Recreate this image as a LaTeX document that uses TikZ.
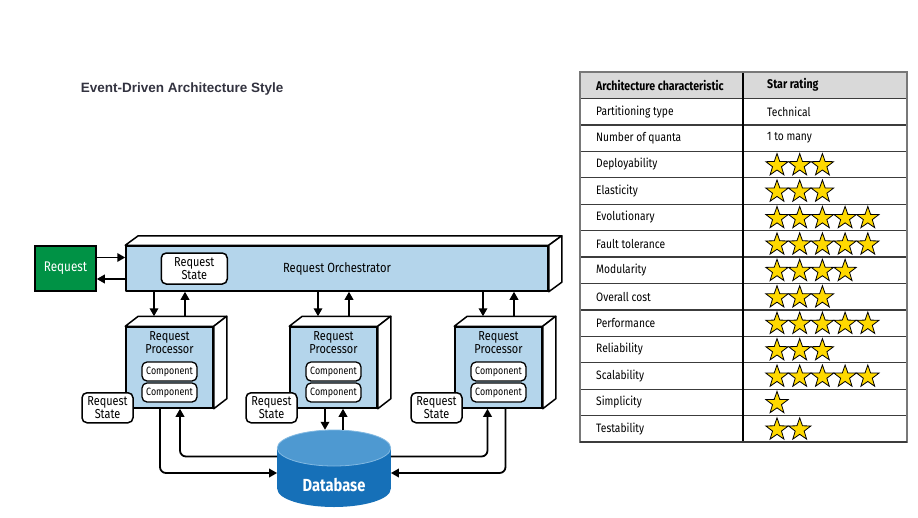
\documentclass[tikz,border=0pt]{standalone}
\usepackage{fontspec}
\setmainfont{Fira Sans}[FakeStretch=0.84]
\newfontfamily\titlefont{Liberation Sans}
\usetikzlibrary{arrows.meta,shapes.geometric}
\definecolor{boxblue}{RGB}{180,213,235}
\definecolor{reqgreen}{RGB}{0,146,69}
\definecolor{dbbody}{RGB}{22,112,184}
\definecolor{dbtop}{RGB}{78,153,209}
\definecolor{dbseam}{RGB}{130,185,226}
\definecolor{staryellow}{RGB}{255,217,0}
\definecolor{hdrgrey}{RGB}{217,217,217}
\definecolor{titlegrey}{RGB}{51,51,64}
\definecolor{gridline}{RGB}{60,60,60}
\definecolor{bordergrey}{RGB}{120,120,120}
\newcommand\cuboidfaces[3]{%
  \draw[face] (#1.north west) -- ++(#2,-#3) -- ([shift={(#2,-#3)}]#1.north east) -- (#1.north east) -- cycle;
  \draw[face] (#1.north east) -- ++(#2,-#3) -- ([shift={(#2,-#3)}]#1.south east) -- (#1.south east) -- cycle;}
\begin{document}
\begin{tikzpicture}[x=1pt,y=-1pt,
  outline/.style={draw=black,line width=1.5pt},
  face/.style={outline,fill=white,line join=round},
  front/.style={outline,fill=boxblue,inner sep=0pt,line join=round},
  statebox/.style={outline,fill=white,rounded corners=5pt,align=center,
    font=\fontsize{13}{13}\selectfont,inner sep=0pt,minimum width=51pt,minimum height=30pt},
  compbox/.style={outline,line width=1.3pt,fill=white,rounded corners=5pt,
    font=\fontsize{10.6}{11}\selectfont,minimum width=55pt,minimum height=19pt,inner sep=0pt},
  proctext/.style={align=center,font=\fontsize{13}{13.2}\selectfont,inner sep=0pt},
  conn/.style={line width=1.8pt,-{Triangle[length=8pt,width=8.5pt]}},
  rconn/.style={conn,rounded corners=6pt},
  rowtext/.style={anchor=west,inner sep=0pt,font=\fontsize{12.2}{13}\selectfont},
  hdrtext/.style={anchor=west,inner sep=0pt,font=\bfseries\fontsize{12.6}{13}\selectfont},
  ystar/.style={star,star points=5,star point ratio=2.5,minimum size=23.5pt,inner sep=0pt,
    draw=black,line width=0.8pt,fill=staryellow},
]
\useasboundingbox (0,0) rectangle (918,517);
\fill[white] (0,0) rectangle (918,517);

% title
\node[anchor=west,inner sep=0pt,text=titlegrey,font=\titlefont\bfseries\fontsize{13.5}{16}\selectfont]
  (title) at (80.7,89) {Event-Driven Architecture Style};

% database
\fill[dbbody] (334,489) ellipse [x radius=56.7pt, y radius=18pt];
\fill[dbbody] (277.3,448) rectangle (391,489);
\fill[dbtop] (334,448) ellipse [x radius=56.7pt, y radius=18pt];
\draw[dbseam,line width=0.8pt] (334,448) ellipse [x radius=56.7pt, y radius=18pt];
\node[minimum width=113.4pt,minimum height=77pt,inner sep=0pt] (db) at (334,468.5) {};
\node[text=white,inner sep=0pt,font=\bfseries\fontsize{17.5}{19}\selectfont] (dbl) at (334,485) {Database};

% request
\node[outline,fill=reqgreen,text=white,minimum width=61pt,minimum height=45pt,inner sep=0pt,
  font=\fontsize{14}{15}\selectfont] (req) at (65.5,268.5) {Request};

% orchestrator
\node[front,minimum width=422pt,minimum height=45pt,font=\fontsize{13.3}{14}\selectfont]
  (orch) at (337,268.5) {Request Orchestrator};
\cuboidfaces{orch}{13}{9.5}
\node[statebox,minimum width=66pt,minimum height=31pt] (ostate) at ([xshift=69pt]orch.west) {Request\\State};

\draw[conn] ([yshift=11pt]req.east) -- ([yshift=11pt]req.east -| orch.west);
\draw[conn] ([yshift=-10.5pt]req.east -| orch.west) -- ([yshift=-10.5pt]req.east);

% processors
\foreach \p/\x in {p1/169.5,p2/333.5,p3/498.5}{
  \node[front,minimum width=87pt,minimum height=81pt] (\p) at (\x,367.5) {};
  \cuboidfaces{\p}{13}{10}
  \node[proctext] (\p t) at ([yshift=-16.5pt]\p.north) {Request\\Processor};
  \node[compbox] (\p c1) at ([yshift=-4pt]\p.center) {Component};
  \node[compbox] (\p c2) at ([yshift=-25pt]\p.center) {Component};
  \draw[conn] ([xshift=-15.5pt]\p.north |- orch.south) -- ([xshift=-15.5pt,yshift=10pt]\p.north);
  \draw[conn] ([xshift=15.5pt,yshift=10pt]\p.north) -- ([xshift=15.5pt]\p.north |- orch.south);
  \node[statebox] (\p s) at ([xshift=-62pt,yshift=1pt]\p.south) {Request\\State};
}

% processor <-> database
\draw[conn] ([xshift=-8.5pt]p2.south) -- ([xshift=-8.5pt]p2.south |- db.north);
\draw[conn] ([xshift=9.5pt]p2.south |- db.north) -- ([xshift=9.5pt]p2.south);
\draw[rconn] ([xshift=-9.5pt]p1.south) |- ([yshift=-4.5pt]db.west);
\draw[rconn] ([yshift=12pt]db.west) -| ([xshift=10.5pt]p1.south);
\draw[rconn] ([yshift=12pt]db.east) -| ([xshift=-11pt]p3.south);
\draw[rconn] ([xshift=7pt]p3.south) |- ([yshift=-4.5pt]db.east);

% table
\fill[hdrgrey] (580,72) rectangle (907,98.43);
\foreach \k in {1,...,13}{
  \draw[gridline,line width=1.3pt] (580,{72+26.43*\k}) -- (907,{72+26.43*\k});
}
\draw[black,line width=1.2pt] (743,72) -- (743,442);
\draw[bordergrey,line width=1.3pt] (580,72) rectangle (907,442);
\draw[gridline,line width=1.4pt] (580,442) -- (907,442);

\node[hdrtext] (h1) at (596,85.2) {Architecture characteristic};
\node[hdrtext] (h2) at (767,85.2) {Star rating};
\node[rowtext] (c1) at (596,{72+26.43*1.5}) {Partitioning type};
\node[rowtext] (v1) at (767,{72+26.43*1.5}) {Technical};
\node[rowtext] (c2) at (596,{72+26.43*2.5}) {Number of quanta};
\node[rowtext] (v2) at (767,{72+26.43*2.5}) {1 to many};
\foreach \k/\name/\n in {3/Deployability/3,4/Elasticity/3,5/Evolutionary/5,6/Fault tolerance/5,
  7/Modularity/4,8/Overall cost/3,9/Performance/5,10/Reliability/3,11/Scalability/5,
  12/Simplicity/1,13/Testability/2}{
  \node[rowtext] (c\k) at (596,{72+26.43*(\k+0.5)}) {\name};
  \foreach \i in {1,...,\n}{
    \node[ystar] (s\k-\i) at ({777+22.7*(\i-1)},{72+26.43*(\k+0.5)+0.8}) {};
  }
}
\end{tikzpicture}
\end{document}
